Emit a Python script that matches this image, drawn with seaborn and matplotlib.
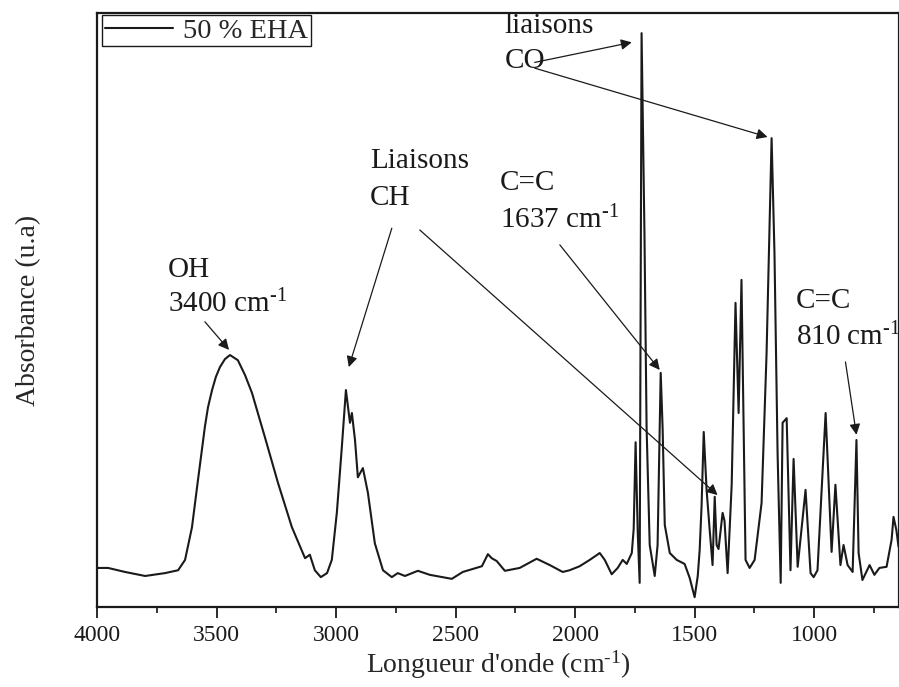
import matplotlib
matplotlib.use("Agg")
import matplotlib.pyplot as plt
import seaborn as sns
import pandas as pd
from matplotlib.ticker import MultipleLocator

# spectrum (wavenumber in cm-1, absorbance in arbitrary units)
wavenumber = [4000, 3954, 3883, 3799, 3716, 3661, 3632, 3603, 3578, 3549,
              3536, 3519, 3503, 3486, 3465, 3444, 3411, 3381, 3352, 3298,
              3243, 3185, 3130, 3110, 3089, 3064, 3038, 3018, 2997, 2976,
              2959, 2942, 2934, 2921, 2909, 2888, 2867, 2838, 2804, 2767,
              2742, 2712, 2658, 2608, 2516, 2470, 2390, 2365, 2349, 2328,
              2294, 2232, 2161, 2106, 2052, 2023, 1981, 1939, 1897, 1876,
              1847, 1822, 1801, 1784, 1763, 1755, 1747, 1738, 1730, 1722,
              1710, 1701, 1688, 1667, 1655, 1646, 1642, 1634, 1625, 1604,
              1575, 1542, 1521, 1500, 1487, 1479, 1471, 1462, 1450, 1437,
              1425, 1416, 1408, 1400, 1383, 1375, 1362, 1345, 1329, 1316,
              1304, 1287, 1270, 1249, 1220, 1199, 1178, 1166, 1153, 1140,
              1132, 1115, 1099, 1086, 1069, 1036, 1015, 1002, 986, 952,
              927, 911, 890, 877, 860, 839, 823, 814, 798, 768,
              748, 727, 697, 676, 668, 656, 647]
absorbance = [0.068, 0.068, 0.061, 0.054, 0.059, 0.064, 0.082, 0.139, 0.221, 0.314,
              0.348, 0.378, 0.401, 0.418, 0.432, 0.439, 0.430, 0.404, 0.373, 0.296,
              0.216, 0.139, 0.085, 0.091, 0.064, 0.052, 0.059, 0.082, 0.164, 0.279,
              0.378, 0.321, 0.338, 0.291, 0.226, 0.242, 0.199, 0.111, 0.064, 0.052,
              0.059, 0.054, 0.063, 0.056, 0.049, 0.061, 0.071, 0.092, 0.085, 0.080,
              0.063, 0.068, 0.084, 0.073, 0.061, 0.064, 0.071, 0.082, 0.094, 0.082,
              0.057, 0.068, 0.082, 0.075, 0.094, 0.136, 0.287, 0.129, 0.042, 1.000,
              0.652, 0.312, 0.108, 0.054, 0.108, 0.312, 0.408, 0.312, 0.143, 0.094,
              0.082, 0.075, 0.051, 0.017, 0.054, 0.099, 0.176, 0.305, 0.204, 0.134,
              0.073, 0.192, 0.108, 0.101, 0.164, 0.150, 0.059, 0.213, 0.530, 0.338,
              0.570, 0.082, 0.068, 0.082, 0.181, 0.443, 0.817, 0.617, 0.268, 0.042,
              0.321, 0.329, 0.064, 0.258, 0.070, 0.204, 0.059, 0.052, 0.064, 0.338,
              0.096, 0.213, 0.073, 0.108, 0.073, 0.061, 0.291, 0.094, 0.047, 0.073,
              0.056, 0.068, 0.070, 0.117, 0.157, 0.134, 0.105]
series_label = "50 % EHA"

sns.set_theme(style="white")
plt.rcParams['font.family'] = ['Liberation Serif', 'DejaVu Serif']
plt.rcParams['mathtext.fontset'] = 'custom'
plt.rcParams['mathtext.rm'] = 'Liberation Serif'
plt.rcParams['mathtext.it'] = 'Liberation Serif:italic'

df = pd.DataFrame({"wn": wavenumber, "A": absorbance})

fig = plt.figure(figsize=(8.99, 6.87), dpi=100)
ax = fig.add_axes([0.108, 0.1165, 0.892, 0.8645])
sns.lineplot(data=df, x="wn", y="A", sort=False, estimator=None, color="k",
             lw=1.5, label=series_label, ax=ax)

ax.set_xlim(4000, 645)
ax.set_ylim(0, 1.035)
ax.xaxis.set_major_locator(MultipleLocator(500))
ax.xaxis.set_minor_locator(MultipleLocator(250))
ax.set_yticks([])
ax.tick_params(axis='x', which='major', direction='out', length=8, width=1.3,
               labelsize=17, colors='k', bottom=True, pad=5)
ax.tick_params(axis='x', which='minor', direction='out', length=4, width=1.3, bottom=True)
for sp in ax.spines.values():
    sp.set_color('k')
    sp.set_linewidth(1.6)

sup = r"$^{\text{-}1}$"
ax.set_xlabel("Longueur d'onde (cm" + sup + ")", fontsize=20, labelpad=2)
ax.set_ylabel("Absorbance (u.a)", fontsize=20, labelpad=40)

leg = ax.legend(loc='upper left', bbox_to_anchor=(0.006, 0.997), fontsize=20.5,
                frameon=True, fancybox=False, edgecolor='k', framealpha=1,
                borderpad=0.1, handlelength=2.4, handletextpad=0.35, borderaxespad=0)
leg.get_frame().set_linewidth(1.0)

fs = 21
txt = dict(fontsize=fs, color='k', va='baseline', ha='left')
ax.text(3703, 0.575, "OH", **txt)
ax.text(3703, 0.514, "3400 cm" + sup, **txt)
ax.text(2859, 0.765, "Liaisons", **txt)
ax.text(2859, 0.700, "CH", **txt)
ax.text(2315, 0.726, "C=C", **txt)
ax.text(2315, 0.660, "1637 cm" + sup, **txt)
ax.text(2294, 1.000, "liaisons", **txt)
ax.text(2294, 0.940, "CO", **txt)
ax.text(1078, 0.521, "C=C", **txt)
ax.text(1078, 0.456, "810 cm" + sup, **txt)

arrow = dict(arrowstyle='-|>', color='k', lw=0.9, mutation_scale=16, shrinkA=0, shrinkB=0)
arrows = [((3549, 0.497), (3448, 0.448)),
          ((2767, 0.660), (2947, 0.418)),
          ((2650, 0.657), (1404, 0.195)),
          ((2064, 0.631), (1646, 0.413)),
          ((2169, 0.949), (1763, 0.984)),
          ((2169, 0.939), (1195, 0.819)),
          ((869, 0.427), (823, 0.300))]
for start, tip in arrows:
    ax.annotate("", xy=tip, xytext=start, arrowprops=arrow)

fig.savefig("out.png", dpi=100)
